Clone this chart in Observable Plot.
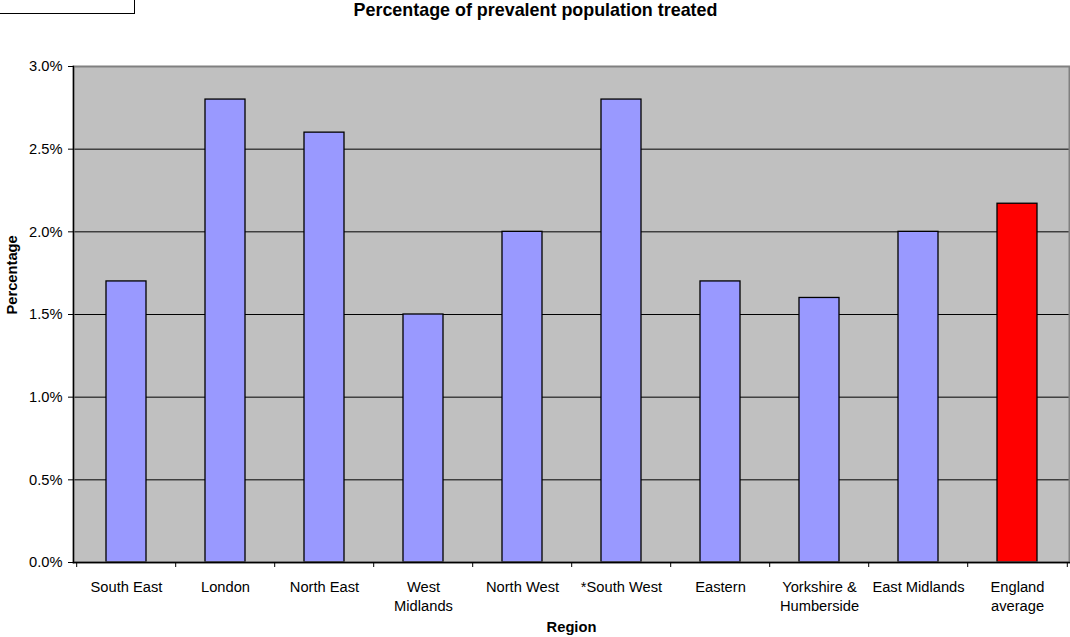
<!DOCTYPE html>
<html>
<head>
<meta charset="utf-8">
<script src="https://cdn.jsdelivr.net/npm/d3@7"></script>
<script src="https://cdn.jsdelivr.net/npm/@observablehq/plot@0.6"></script>
<style>
  html, body { margin: 0; padding: 0; background: white; }
  #wrap { position: relative; width: 1070px; height: 637px; overflow: hidden; }
  #box { position: absolute; left: -3px; top: -3px; width: 136px; height: 15px; border: 1.5px solid black; }
</style>
</head>
<body>
<div id="wrap"><div id="box"></div></div>
<script>
const title = "Percentage of prevalent population treated";
const xLabel = "Region";
const yLabel = "Percentage";
const categories = ["South East", "London", "North East", "West\nMidlands", "North West", "*South West", "Eastern", "Yorkshire &\nHumberside", "East Midlands", "England\naverage"];
const values = [1.7, 2.8, 2.6, 1.5, 2.0, 2.8, 1.7, 1.6, 2.0, 2.17];
const barColors = ["#9999FF", "#9999FF", "#9999FF", "#9999FF", "#9999FF", "#9999FF", "#9999FF", "#9999FF", "#9999FF", "#FF0000"];
const yTicks = [0, 0.5, 1.0, 1.5, 2.0, 2.5, 3.0];

const data = categories.map((c, i) => ({region: c, value: values[i], color: barColors[i]}));
const step = (1070 - 73 - 1) / categories.length;

const chart = Plot.plot({
  width: 1070,
  height: 637,
  marginLeft: 73,
  marginRight: 1,
  marginTop: 66,
  marginBottom: 75,
  style: {fontFamily: "'Liberation Sans', Arial, sans-serif", fontSize: "14.7px", color: "black", background: "white", overflow: "visible"},
  x: {type: "band", domain: categories, paddingInner: 0.6, paddingOuter: 0.3, align: 0.5, label: null},
  y: {domain: [0, 3], label: null},
  color: {type: "identity"},
  marks: [
    Plot.frame({fill: "#C0C0C0"}),
    Plot.gridY(yTicks.slice(1, -1), {stroke: "black", strokeOpacity: 1, strokeWidth: 1}),
    Plot.barY(data, {x: "region", y: "value", fill: "color", stroke: "black", strokeWidth: 1.3}),
    Plot.frame({stroke: "#808080", strokeWidth: 2}),
    Plot.frame({anchor: "left", stroke: "black", strokeWidth: 1.3}),
    Plot.frame({anchor: "bottom", stroke: "black", strokeWidth: 1.3}),
    Plot.axisY(yTicks, {tickSize: 5, tickPadding: 6, tickFormat: d => d.toFixed(1) + "%", fontSize: 14.7, stroke: "black", label: null}),
    Plot.axisX({tickSize: 0, tickPadding: 15.6, lineHeight: 1.3, fontSize: 14.7, label: null}),
    Plot.axisX({tickSize: 5, tickFormat: () => "", dx: -step / 2, stroke: "black", label: null}),
    Plot.axisX([categories[categories.length - 1]], {tickSize: 5, tickFormat: () => "", dx: step / 2, stroke: "black", label: null}),
    Plot.text([title], {frameAnchor: "top", lineAnchor: "middle", dx: -36, dy: -56, fontWeight: "bold", fontSize: 17.9}),
    Plot.text([yLabel], {frameAnchor: "left", dx: -61, rotate: -90, fontWeight: "bold", fontSize: 14.7}),
    Plot.text([xLabel], {frameAnchor: "bottom", lineAnchor: "middle", dy: 65, fontWeight: "bold", fontSize: 14.7})
  ]
});
document.getElementById("wrap").appendChild(chart);
</script>
</body>
</html>
